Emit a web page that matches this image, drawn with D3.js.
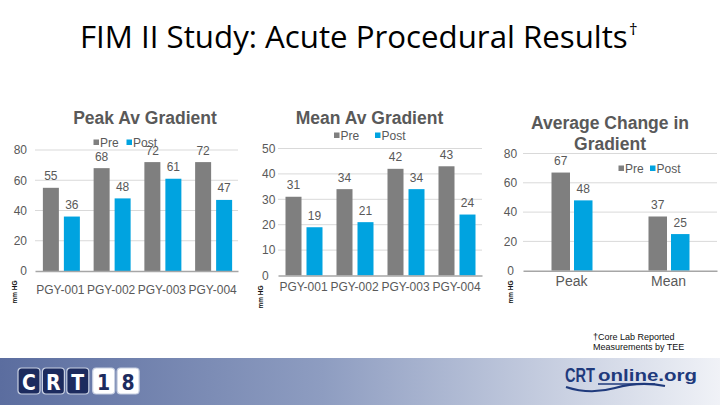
<!DOCTYPE html>
<html><head><meta charset="utf-8">
<script src="https://cdn.jsdelivr.net/npm/d3@7"></script>
<style>body{margin:0;background:#fff}svg{display:block}</style>
</head><body>
<script>
// ---------- data ----------
const peakCategories = ["PGY-001","PGY-002","PGY-003","PGY-004"];
const peakPre  = [55,68,72,72];
const peakPost = [36,48,61,47];
const peakTicks = [0,20,40,60,80];

const meanCategories = ["PGY-001","PGY-002","PGY-003","PGY-004"];
const meanPre  = [31,34,42,43];
const meanPost = [19,21,34,24];
const meanTicks = [0,10,20,30,40,50];

const changeCategories = ["Peak","Mean"];
const changePre  = [67,37];
const changePost = [48,25];
const changeTicks = [0,20,40,60,80];

const seriesNames = ["Pre","Post"];
const titleText = "FIM II Study: Acute Procedural Results";
const footnoteLines = ["\u2020Core Lab Reported","Measurements by TEE"];
const logoLetters = ["C","R","T","1","8"];
const yAxisTitle = "mm HG";

// ---------- styles ----------
const PRE="#7f7f7f", POST="#00a3e0", TXT="#595959";
const FONT="'Liberation Sans', Arial, sans-serif";
const colors = d3.scaleOrdinal().domain(seriesNames).range([PRE,POST]);

const svg = d3.select("body").append("svg").attr("width",720).attr("height",405);
svg.append("rect").attr("width",720).attr("height",405).attr("fill","#fff");

// ---------- main title ----------
const title = svg.append("text").attr("x",80).attr("y",48)
  .attr("font-family","'Open Sans', sans-serif").attr("font-size",28).attr("fill","#000")
  .text(titleText);
const tw = title.node().getComputedTextLength();
title.attr("font-size", 28*548/tw);
svg.append("text").attr("x",629).attr("y",35).attr("font-family","'Open Sans', sans-serif")
  .attr("font-size",17).attr("fill","#000").text("\u2020");

// ---------- chart builder ----------
function drawChart(o){
  const g = svg.append("g");
  const x = d3.scaleBand().domain(o.categories).range([o.x0,o.x1]);
  const y = d3.scaleLinear().domain([0,o.yMax]).range([o.zeroY,o.topY]);
  const off = d3.scaleOrdinal().domain(seriesNames).range([-(o.gap/2+o.barW), o.gap/2]);

  // gridlines
  g.append("g").selectAll("line").data(o.ticks.filter(t=>t>0)).join("line")
    .attr("x1",o.x0).attr("x2",o.x1).attr("y1",d=>y(d)).attr("y2",d=>y(d))
    .attr("stroke","#d9d9d9").attr("stroke-width",1);

  // y tick labels
  const ya = g.append("g").attr("transform",`translate(${o.tickX},0)`)
    .call(d3.axisLeft(y).tickValues(o.ticks).tickSize(0).tickPadding(0));
  ya.select(".domain").remove();
  ya.selectAll("text").attr("font-family",FONT).attr("font-size",12)
    .attr("fill",TXT).attr("text-anchor",o.tickAnchor);

  // bars
  const rows = [];
  o.categories.forEach((c,i)=>{
    rows.push({cat:c, s:"Pre", v:o.pre[i]});
    rows.push({cat:c, s:"Post", v:o.post[i]});
  });
  const cx = d=> x(d.cat)+x.bandwidth()/2 + o.shift + off(d.s);
  g.append("g").selectAll("rect").data(rows).join("rect")
    .attr("x",cx).attr("width",o.barW)
    .attr("y",d=>y(d.v)).attr("height",d=>y(0)-y(d.v))
    .attr("fill",d=>colors(d.s));

  // x axis
  const xa = g.append("g").attr("transform",`translate(0,${o.zeroY})`)
    .call(d3.axisBottom(x).tickSize(0).tickPadding(o.catPad));
  xa.select(".domain").attr("stroke","#a6a6a6").attr("stroke-width",1.5);
  xa.selectAll("text").attr("font-family",FONT).attr("font-size",o.catFont).attr("fill",TXT);

  // data labels
  g.append("g").selectAll("text").data(rows).join("text")
    .attr("x",d=>cx(d)+o.barW/2).attr("y",d=>y(d.v)-7.5)
    .attr("text-anchor","middle").attr("font-family",FONT).attr("font-size",12)
    .attr("fill",TXT).text(d=>d.v);

  // chart title
  g.append("g").selectAll("text").data(o.title).join("text")
    .attr("x",o.titleX).attr("y",(d,i)=>o.titleY[i]).attr("text-anchor","middle")
    .attr("font-family",FONT).attr("font-weight","bold").attr("font-size",17.5)
    .attr("fill",TXT).text(d=>d);

  // legend
  const lg = g.append("g").selectAll("g").data(seriesNames).join("g")
    .attr("transform",(d,i)=>`translate(${o.legX + i*o.legStep},${o.legY})`);
  lg.append("rect").attr("x",0).attr("y",-7.5).attr("width",5.5).attr("height",5.5)
    .attr("fill",d=>colors(d));
  lg.append("text").attr("x",6.5).attr("y",0).attr("font-family",FONT).attr("font-size",12)
    .attr("fill",TXT).text(d=>d);

  // y axis title
  g.append("text").attr("transform",`translate(${o.unitX},${o.unitY}) rotate(-90)`)
    .attr("text-anchor","middle").attr("font-family",FONT).attr("font-weight","bold")
    .attr("font-size",6.5).attr("fill","#111").text(yAxisTitle);
}

drawChart({categories:peakCategories, pre:peakPre, post:peakPost, ticks:peakTicks, yMax:80,
  x0:35, x1:238, zeroY:271, topY:150, barW:16, gap:5, shift:1,
  tickX:27, tickAnchor:"end", catPad:14, catFont:12,
  title:["Peak Av Gradient"], titleX:145, titleY:[124],
  legX:93.5, legStep:33, legY:147, unitX:17, unitY:292});

drawChart({categories:meanCategories, pre:meanPre, post:meanPost, ticks:meanTicks, yMax:50,
  x0:278, x1:482, zeroY:275.5, topY:148.5, barW:16, gap:5, shift:0.5,
  tickX:262, tickAnchor:"start", catPad:7, catFont:12,
  title:["Mean Av Gradient"], titleX:369.5, titleY:[124],
  legX:334, legStep:41, legY:140, unitX:263, unitY:297});

drawChart({categories:changeCategories, pre:changePre, post:changePost, ticks:changeTicks, yMax:80,
  x0:523, x1:717, zeroY:270.7, topY:153.5, barW:18.5, gap:4, shift:0.5,
  tickX:510.5, tickAnchor:"middle", catPad:5, catFont:14,
  title:["Average Change in","Gradient"], titleX:610, titleY:[128.5,150],
  legX:618.5, legStep:31.5, legY:173, unitX:513, unitY:292});

// ---------- footnote ----------
svg.append("g").selectAll("text").data(footnoteLines).join("text")
  .attr("x",593).attr("y",(d,i)=>340+i*9.5).attr("font-family",FONT).attr("font-size",9)
  .attr("fill","#111").text(d=>d);

// ---------- bottom band ----------
const defs = svg.append("defs");
const grad = defs.append("linearGradient").attr("id","band").attr("x1",0).attr("x2",1).attr("y1",0).attr("y2",0);
grad.append("stop").attr("offset",0).attr("stop-color","#5b6d9f");
grad.append("stop").attr("offset",0.45).attr("stop-color","#8e9dc1");
grad.append("stop").attr("offset",1).attr("stop-color","#f0f2f7");
svg.append("rect").attr("x",0).attr("y",358).attr("width",720).attr("height",47).attr("fill","url(#band)");

// CRT18 logo
const logo = svg.append("g").selectAll("g").data(logoLetters).join("g")
  .attr("transform",(d,i)=>`translate(${18 + i*24.4 + (i>2?1.5:0)},368)`);
logo.append("rect").attr("width",22).attr("height",26).attr("rx",3.5)
  .attr("fill",(d,i)=>i<3?"#1c2b5e":"#ffffff").attr("stroke","#c8d0e2").attr("stroke-width",1.2);
logo.append("text").attr("x",11).attr("y",21.5).attr("text-anchor","middle")
  .attr("font-family","'DejaVu Sans Condensed','DejaVu Sans',sans-serif").attr("font-weight","bold")
  .attr("font-size",21).attr("fill",(d,i)=>i<3?"#ffffff":"#1c2b5e").text(d=>d);

// CRTonline.org logo
const NAVY="#1f3a7c";
svg.append("text").attr("x",565).attr("y",382).attr("font-family",FONT).attr("font-weight","bold")
  .attr("font-size",20).attr("fill",NAVY).attr("textLength",30).attr("lengthAdjust","spacingAndGlyphs").text("CRT");
svg.append("text").attr("x",598).attr("y",381).attr("font-family",FONT).attr("font-weight","bold")
  .attr("font-size",16).attr("fill",NAVY).attr("textLength",99).attr("lengthAdjust","spacingAndGlyphs").text("online.org");
svg.append("path").attr("d","M566,387 Q590,395 615,388 Q640,381 665,386")
  .attr("fill","none").attr("stroke",NAVY).attr("stroke-width",2.2);
svg.append("line").attr("x1",598).attr("x2",655).attr("y1",384).attr("y2",384).attr("stroke",NAVY).attr("stroke-width",1.5);
</script>
</body></html>
